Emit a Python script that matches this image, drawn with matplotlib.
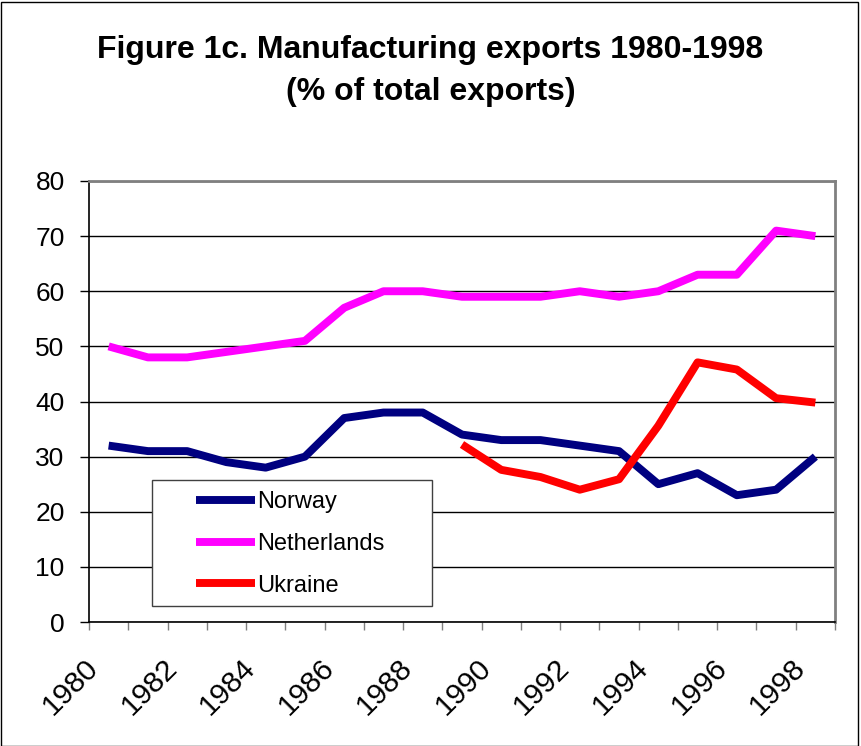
import matplotlib
matplotlib.use("Agg")
import matplotlib.pyplot as plt
import matplotlib.transforms as mtransforms
from matplotlib.patches import Rectangle
import numpy as np

plt.rcParams["font.family"] = ["Liberation Sans", "DejaVu Sans"]

years = list(range(1980, 1999))
norway = [32, 31, 31, 29, 28, 30, 37, 38, 38, 34, 33, 33, 32, 31, 25, 27, 23, 24, 30]
netherlands = [50, 48, 48, 49, 50, 51, 57, 60, 60, 59, 59, 59, 60, 59, 60, 63, 63, 71, 70]
ukraine = [None] * 9 + [32.2, 27.6, 26.3, 24.0, 25.9, 35.6, 47.1, 45.8, 40.6, 39.8]
tick_years = years[::2]

series = [
    ("Norway", norway, "#000080"),
    ("Netherlands", netherlands, "#FF00FF"),
    ("Ukraine", ukraine, "#FF0000"),
]

fig = plt.figure(figsize=(8.61, 7.46), dpi=100)
ax = fig.add_axes([89 / 861, 1 - 622 / 746, 746 / 861, 441 / 746])

# category axis: points sit in the middle of each slot
x = np.arange(len(years)) + 0.5
for name, vals, color in series:
    y = np.array([np.nan if v is None else v for v in vals], dtype=float)
    ax.plot(x, y, color=color, lw=5.7, label=name, solid_joinstyle="round",
            solid_capstyle="butt", zorder=2)

ax.set_xlim(0, len(years))
ax.set_ylim(0, 80)
ax.set_yticks(range(0, 81, 10))
ax.tick_params(axis="y", labelsize=19, length=6.5, width=1, direction="out", pad=11)

ax.set_xticks(np.arange(len(years) + 1))
ax.set_xticklabels([])
ax.tick_params(axis="x", which="major", length=6, width=1, color="#808080")
ax.set_xticks([years.index(t) + 0.5 for t in tick_years], minor=True)
ax.set_xticklabels([str(t) for t in tick_years], minor=True, rotation=45,
                   ha="right", va="top", fontsize=21.5)
ax.tick_params(axis="x", which="minor", length=0, pad=22.6)
offset = mtransforms.ScaledTranslation(-4.5 / 100, 0, fig.dpi_scale_trans)
for lab in ax.get_xticklabels(minor=True):
    lab.set_transform(lab.get_transform() + offset)

ax.grid(axis="y", color="black", lw=1, zorder=0)
ax.set_axisbelow(True)
for side in ("top", "right"):
    ax.spines[side].set_color("#808080")
    ax.spines[side].set_linewidth(2)
for side in ("left", "bottom"):
    ax.spines[side].set_color("black")
    ax.spines[side].set_linewidth(1.2)

# legend box drawn separately so it can be wider than its contents
ax.add_patch(Rectangle((63 / 746, 16 / 441), 280 / 746, 126 / 441,
                       transform=ax.transAxes, facecolor="white",
                       edgecolor="#404040", lw=1, zorder=3))
leg = ax.legend(loc="upper left", bbox_to_anchor=(107 / 746, 131 / 441),
                frameon=False, fontsize=17, handlelength=2.5,
                handletextpad=0.1, labelspacing=0.84, borderpad=0,
                borderaxespad=0)
leg.set_zorder(4)

fig.text(0.5, 1 - 71 / 746, "Figure 1c. Manufacturing exports 1980-1998\n(% of total exports)",
         ha="center", va="center", fontsize=23, fontweight="bold", linespacing=1.5)

fig.patches.append(Rectangle((0.5 / 861, 0.5 / 746), 857 / 861, 744 / 746,
                             transform=fig.transFigure, fill=False,
                             edgecolor="black", lw=1))

fig.savefig("out.png", dpi=100)
